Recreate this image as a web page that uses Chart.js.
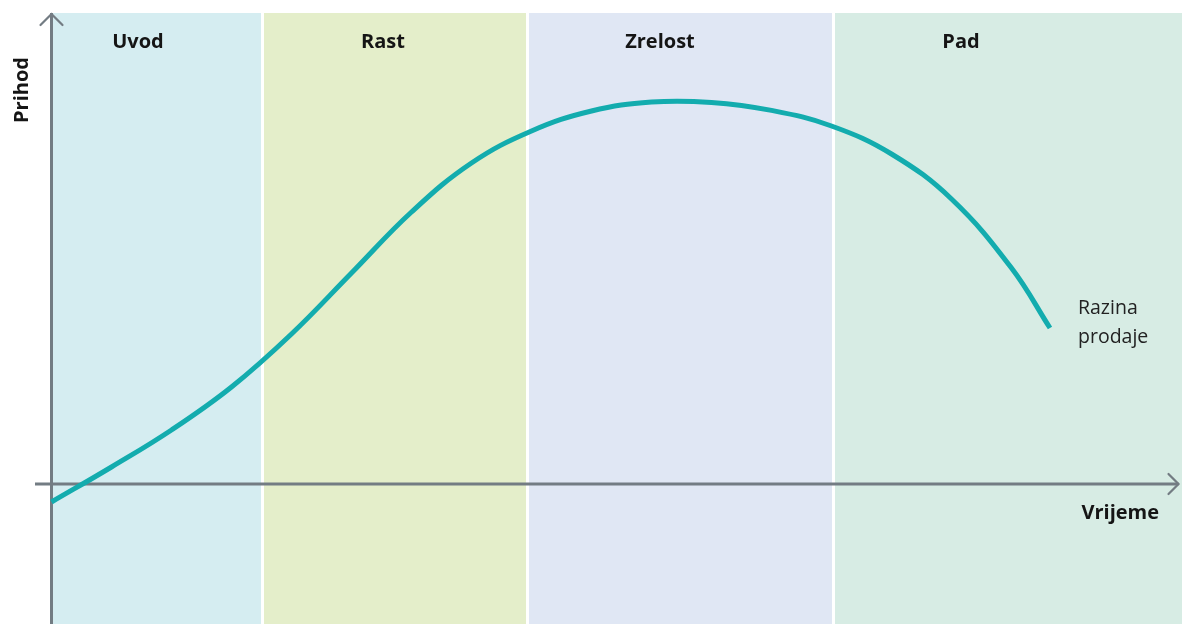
<!DOCTYPE html>
<html>
<head>
<meta charset="utf-8">
<script src="https://cdn.jsdelivr.net/npm/chart.js@4.4.1/dist/chart.umd.min.js"></script>
<style>
    body { margin: 0; background: #fff; }
    #wrap { width: 1182px; height: 624px; }
</style>
</head>
<body>
<div id="wrap"><canvas id="myChart" width="1182" height="624"></canvas></div>
<script>
// faze zivotnog ciklusa
const phases = ['Uvod', 'Rast', 'Zrelost', 'Pad']
const phaseEdges = [0, 20.95, 47.45, 78.05, 113.05]
const phaseLabelX = [8.65, 33.15, 60.85, 90.95]
const phaseColors = ['#d5edf1', '#e4eeca', '#e0e7f4', '#d7ece4']

// krivulja prodaje (vrijeme / prihod)
const time = [0, 6, 12, 18, 24, 30, 36, 42, 48, 54, 60, 66, 72, 78, 84, 90, 96, 99.85]
const revenue = [-4.5, 4.25, 13.5, 24.25, 37.5, 52.75, 68, 80.25, 88.25, 93.25, 95.5, 95.4, 93.4, 89.5, 82.5, 71.25, 54, 39]

const axisColor = '#737c83'
const bandTop = 117.75

const backdropPlugin = {
    id: 'backdrop',
    beforeDatasetsDraw(chart) {
        const c = chart.ctx
        const x = chart.scales.x
        const y = chart.scales.y
        const top = y.getPixelForValue(bandTop)
        const bottom = chart.height

        // pozadinske trake
        phases.forEach((p, i) => {
            const x0 = x.getPixelForValue(phaseEdges[i]) + (i > 0 ? 3 : 0)
            const x1 = x.getPixelForValue(phaseEdges[i + 1])
            c.fillStyle = phaseColors[i]
            c.fillRect(x0, top, x1 - x0, bottom - top)
        })

        // osi
        const ox = x.getPixelForValue(0)
        const oy = y.getPixelForValue(0)
        c.save()
        c.strokeStyle = axisColor
        c.lineWidth = 3
        c.lineCap = 'butt'
        c.beginPath()
        c.moveTo(ox, bottom)
        c.lineTo(ox, top)
        c.moveTo(x.getPixelForValue(-1.65), oy)
        c.lineTo(x.getPixelForValue(112.7), oy)
        c.stroke()

        c.lineWidth = 2.2
        c.lineCap = 'round'
        c.beginPath()
        c.moveTo(ox - 11, top + 12)
        c.lineTo(ox, top + 1)
        c.lineTo(ox + 11, top + 12)
        const ex = x.getPixelForValue(112.7)
        c.moveTo(ex - 10, oy - 10)
        c.lineTo(ex, oy)
        c.lineTo(ex - 10, oy + 10)
        c.stroke()

        // natpisi faza
        c.fillStyle = '#151515'
        c.font = 'bold 20px "Open Sans", sans-serif'
        c.textAlign = 'center'
        c.textBaseline = 'middle'
        phases.forEach((p, i) => {
            c.fillText(p, x.getPixelForValue(phaseLabelX[i]), y.getPixelForValue(110.5))
        })

        c.textAlign = 'left'
        c.fillText('Vrijeme', x.getPixelForValue(103), y.getPixelForValue(-7.3))

        c.save()
        c.translate(22, y.getPixelForValue(98.5))
        c.rotate(-Math.PI / 2)
        c.textAlign = 'center'
        c.fillText('Prihod', 0, 0)
        c.restore()

        c.font = '19.5px "Open Sans", sans-serif'
        c.fillStyle = '#222'
        c.fillText('Razina', x.getPixelForValue(102.65), y.getPixelForValue(44))
        c.fillText('prodaje', x.getPixelForValue(102.65), y.getPixelForValue(36.75))
        c.restore()
    }
}

const ctx = document.getElementById('myChart')

new Chart(ctx, {
    type: 'line',
    data: {
        datasets: [{
            label: 'Razina prodaje',
            data: time.map((t, i) => ({ x: t, y: revenue[i] })),
            borderColor: '#13acae',
            borderWidth: 5,
            pointRadius: 0,
            tension: 0.4,
            fill: false,
        }],
    },
    options: {
        responsive: false,
        animation: false,
        layout: { padding: 0 },
        scales: {
            x: {
                type: 'linear',
                min: -5.15,
                max: 113.05,
                display: false
            },
            y: {
                min: -35,
                max: 121,
                display: false
            }
        },
        plugins: {
            legend: { display: false },
            tooltip: { enabled: false }
        }
    },
    plugins: [backdropPlugin]
});
</script>
</body>
</html>
